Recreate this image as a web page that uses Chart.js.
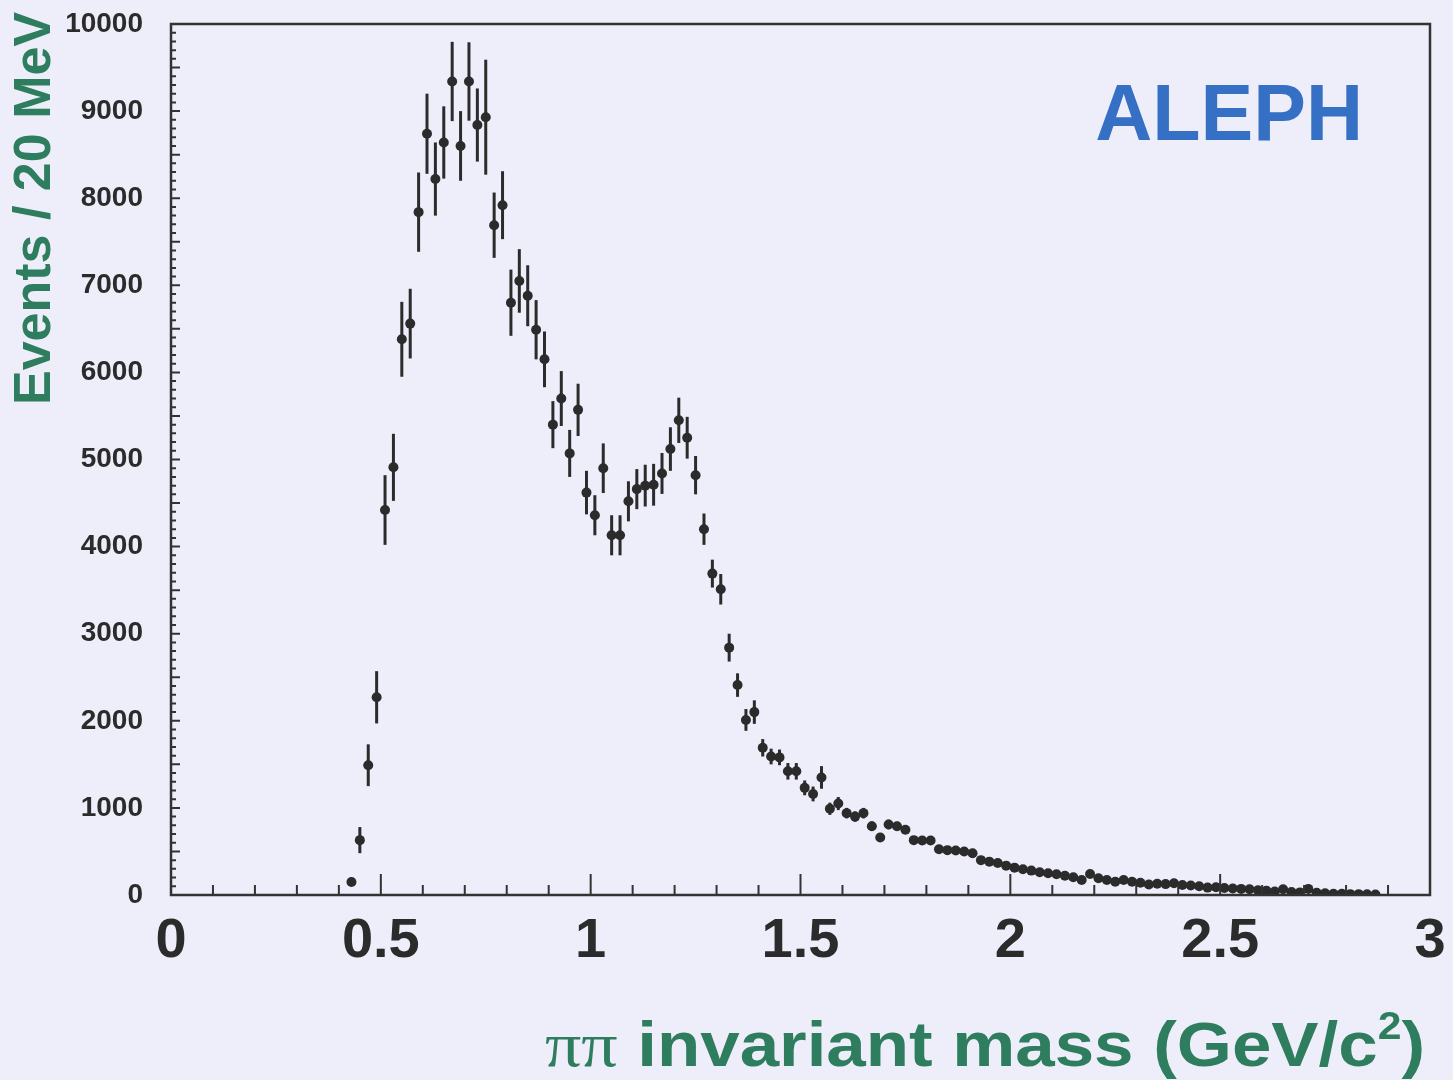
<!DOCTYPE html>
<html>
<head>
<meta charset="utf-8">
<title>ALEPH ππ invariant mass</title>
<script src="https://cdn.jsdelivr.net/npm/chart.js@4.4.0/dist/chart.umd.min.js"></script>
<style>
  html, body { margin: 0; padding: 0; background: #eeeefa; }
  canvas { display: block; }
</style>
</head>
<body>
<canvas id="massChart" width="1453" height="1080"></canvas>
<script>
// Histogram binning: 20 MeV bins, first bin centre at 0.43 GeV/c²
const binStart = 0.43;
const binWidth = 0.02;

// Events per bin
const events = [
  150, 630, 1490, 2270, 4420, 4910, 6380, 6560, 7840, 8740,
  8220, 8640, 9340, 8600, 9340, 8840, 8930, 7690, 7920, 6800,
  7050, 6880, 6490, 6150, 5400, 5700, 5070, 5570, 4620, 4360,
  4900, 4130, 4130, 4520, 4660, 4700, 4710, 4840, 5120, 5450,
  5250, 4820, 4200, 3690, 3510, 2840, 2410, 2010, 2100, 1690,
  1590, 1580, 1420, 1420, 1230, 1160, 1350, 990, 1050, 940,
  900, 940, 790, 660, 810, 790, 750, 630, 625, 625,
  525, 515, 510, 500, 480, 400, 383, 368, 337, 314,
  295, 280, 261, 249, 238, 222, 203, 172, 241, 192,
  172, 153, 172, 153, 140, 120, 130, 125, 135, 115,
  110, 100, 85, 90, 80, 75, 70, 65, 55, 50,
  40, 65, 35, 30, 70, 25, 20, 15, 15, 10,
  10, 8, 5
];

// Half length of each error bar
const errors = [
  30, 150, 240, 300, 400, 385, 430, 400, 455, 460,
  420, 415, 455, 400, 450, 420, 660, 375, 390, 380,
  365, 350, 340, 320, 270, 315, 270, 300, 250, 230,
  285, 230, 230, 230, 230, 240, 240, 235, 250, 260,
  240, 220, 180, 160, 175, 160, 135, 125, 135, 100,
  90, 90, 95, 95, 85, 85, 130, 70, 75, 60,
  60, 60, 55, 50, 55, 50, 50, 45, 45, 45,
  40, 40, 40, 40, 40, 35, 35, 35, 35, 30,
  30, 30, 30, 30, 30, 30, 30, 30, 35, 30,
  30, 25, 30, 25, 25, 25, 25, 25, 25, 20,
  20, 20, 20, 20, 20, 20, 15, 15, 15, 15,
  15, 15, 12, 12, 15, 10, 10, 10, 10, 8,
  8, 6, 5
];

const masses = events.map((_, i) => +(binStart + i * binWidth).toFixed(2));

const xMin = 0, xMax = 3, xStep = 0.5;
const yMin = 0, yMax = 10000, yStep = 1000;

const ink = '#2b2b2b';
const green = '#2d7d5e';
const blue = '#3570c4';
const bg = '#eeeefa';
const sans = "'Liberation Sans', Arial, Helvetica, sans-serif";
const serif = "'Liberation Serif', 'Times New Roman', serif";

// fond lavande
const background = {
    id: 'background',
    beforeDraw(chart) {
        const ctx = chart.ctx;
        ctx.save();
        ctx.fillStyle = bg;
        ctx.fillRect(0, 0, chart.width, chart.height);
        ctx.restore();
    }
};

const errorBars = {
    id: 'errorBars',
    beforeDatasetsDraw(chart) {
        const { ctx, scales: { x, y } } = chart;
        ctx.save();
        ctx.strokeStyle = ink;
        ctx.lineWidth = 3;
        events.forEach((v, i) => {
            const px = x.getPixelForValue(masses[i]);
            ctx.beginPath();
            ctx.moveTo(px, y.getPixelForValue(v + errors[i]));
            ctx.lineTo(px, y.getPixelForValue(Math.max(0, v - errors[i])));
            ctx.stroke();
        });
        ctx.restore();
    }
};

// cadre + graduations intérieures
const frameTicks = {
    id: 'frameTicks',
    afterDraw(chart) {
        const { ctx, chartArea: a, scales: { x, y } } = chart;
        ctx.save();
        ctx.strokeStyle = '#333';
        ctx.lineWidth = 2;
        ctx.beginPath();
        for (let i = 0; i <= 30; i++) {
            const px = x.getPixelForValue(i / 10);
            const len = i % 5 === 0 ? 21 : 10;
            ctx.moveTo(px, a.bottom);
            ctx.lineTo(px, a.bottom - len);
        }
        for (let j = 0; j <= 100; j++) {
            const py = y.getPixelForValue(j * 100);
            const len = j % 5 === 0 ? 9 : 5;
            ctx.moveTo(a.left, py);
            ctx.lineTo(a.left + len, py);
        }
        ctx.stroke();
        ctx.lineWidth = 2.5;
        ctx.strokeRect(a.left, a.top, a.right - a.left, a.bottom - a.top);
        ctx.restore();
    }
};

const titles = {
    id: 'titles',
    afterDraw(chart) {
        const { ctx, chartArea: a } = chart;
        ctx.save();

        // ALEPH
        ctx.fillStyle = blue;
        ctx.font = `bold 79px ${sans}`;
        ctx.textAlign = 'right';
        ctx.textBaseline = 'alphabetic';
        ctx.fillText('ALEPH', a.right - 67, a.top + 116);

        // x title: ππ invariant mass (GeV/c²), a bit wider like the original lettering
        ctx.fillStyle = green;
        ctx.textAlign = 'left';
        const parts = [
            { t: 'ππ', font: `64px ${serif}`, dy: 0 },
            { t: ' invariant mass (GeV/c', font: `bold 63px ${sans}`, dy: 0 },
            { t: '2', font: `bold 38px ${sans}`, dy: -27 },
            { t: ')', font: `bold 63px ${sans}`, dy: 0 }
        ];
        let total = 0;
        parts.forEach(p => { ctx.font = p.font; p.w = ctx.measureText(p.t).width; total += p.w; });
        const right = a.right - 5;
        const sx = Math.max(1, 880 / total);
        ctx.save();
        ctx.translate(right - total * sx, chart.height - 14);
        ctx.scale(sx, 1);
        let cx = 0;
        parts.forEach(p => {
            ctx.font = p.font;
            ctx.fillText(p.t, cx, p.dy);
            cx += p.w;
        });
        ctx.restore();

        // y title
        ctx.save();
        ctx.translate(50, a.top + 381);
        ctx.rotate(-Math.PI / 2);
        ctx.font = `bold 52px ${sans}`;
        ctx.fillText('Events / 20 MeV', 0, 0);
        ctx.restore();

        ctx.restore();
    }
};

new Chart(document.getElementById('massChart'), {
    type: 'scatter',
    data: {
        datasets: [{
            label: 'Events / 20 MeV',
            data: masses.map((m, i) => ({ x: m, y: events[i] })),
            pointRadius: 5,
            pointHoverRadius: 5,
            pointBackgroundColor: ink,
            pointBorderWidth: 0
        }]
    },
    options: {
        responsive: false,
        animation: false,
        layout: { padding: { top: 24, right: 23, left: 0, bottom: 0 } },
        plugins: { legend: { display: false }, tooltip: { enabled: false } },
        scales: {
            x: {
                type: 'linear',
                min: xMin, max: xMax,
                grid: { display: false, drawTicks: false },
                border: { display: false },
                ticks: {
                    stepSize: xStep,
                    maxRotation: 0,
                    autoSkip: false,
                    padding: 13,
                    color: ink,
                    font: { family: sans, size: 56, weight: 'bold' },
                    callback: v => String(v)
                },
                afterFit: s => {
                    s.height = 185;
                    s.paddingLeft = 0;
                    s.paddingRight = 0;
                }
            },
            y: {
                min: yMin, max: yMax,
                grid: { display: false, drawTicks: false },
                border: { display: false },
                ticks: {
                    stepSize: yStep,
                    padding: 28,
                    color: ink,
                    font: { family: sans, size: 28, weight: 'bold' },
                    callback: v => String(v)
                },
                afterFit: s => {
                    s.width = 171;
                    s.paddingTop = 0;
                    s.paddingBottom = 0;
                }
            }
        }
    },
    plugins: [background, errorBars, frameTicks, titles]
});
</script>
</body>
</html>
